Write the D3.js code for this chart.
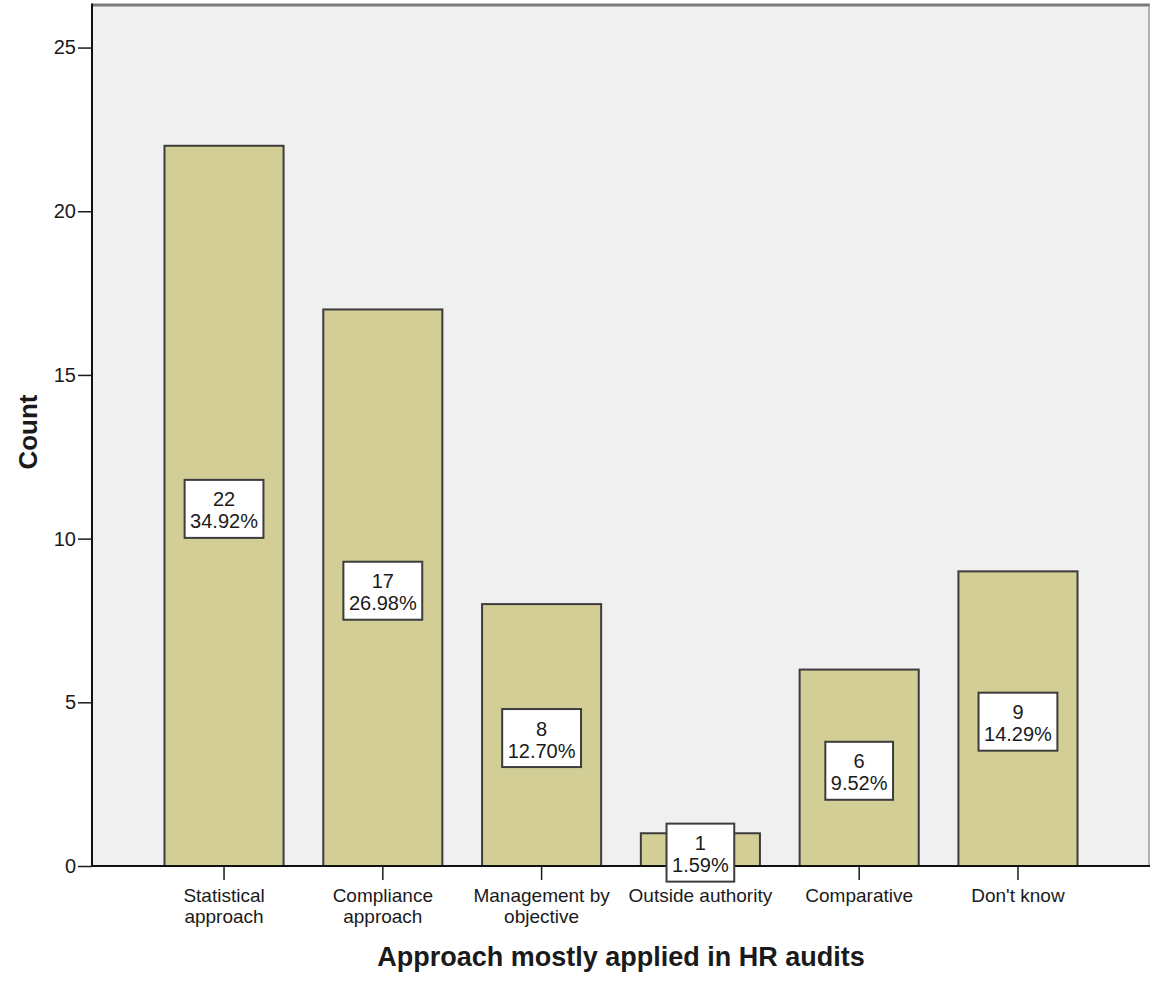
<!DOCTYPE html>
<html>
<head>
<meta charset="utf-8">
<script src="https://cdn.jsdelivr.net/npm/d3@7"></script>
<style>
  html, body { margin: 0; padding: 0; background: #ffffff; }
  svg text { font-family: "Liberation Sans", Arial, sans-serif; fill: #1a1a1a; }
</style>
</head>
<body>
<svg id="chart" width="1150" height="982"></svg>
<script>
// Survey responses: approach mostly applied in HR audits
const categories = [
  ["Statistical", "approach"],
  ["Compliance", "approach"],
  ["Management by", "objective"],
  ["Outside authority"],
  ["Comparative"],
  ["Don't know"]
];
const counts = [22, 17, 8, 1, 6, 9];
const percents = ["34.92%", "26.98%", "12.70%", "1.59%", "9.52%", "14.29%"];
const yTicks = [0, 5, 10, 15, 20, 25];

const svg = d3.select("#chart");
const plot = { left: 92, right: 1150, top: 5, bottom: 866 };

const keys = categories.map((c, i) => i);
const x = d3.scaleBand()
  .domain(keys)
  .range([plot.left, plot.right])
  .paddingInner(0.25)
  .paddingOuter(0.4565);

const y = d3.scaleLinear()
  .domain([0, 26.3])
  .range([plot.bottom, plot.top]);

// plot background
svg.append("rect")
  .attr("x", plot.left).attr("y", plot.top)
  .attr("width", plot.right - plot.left)
  .attr("height", plot.bottom - plot.top)
  .attr("fill", "#f0f0f0");

// top and right frame
svg.append("line")
  .attr("x1", plot.left).attr("x2", plot.right)
  .attr("y1", plot.top).attr("y2", plot.top)
  .attr("stroke", "#7a7a7a").attr("stroke-width", 3);
svg.append("line")
  .attr("x1", plot.right - 1).attr("x2", plot.right - 1)
  .attr("y1", plot.top).attr("y2", plot.bottom)
  .attr("stroke", "#9a9a9a").attr("stroke-width", 1.5);

// bars
svg.append("g").selectAll("rect")
  .data(counts)
  .join("rect")
  .attr("x", (d, i) => x(i))
  .attr("y", d => y(d))
  .attr("width", x.bandwidth())
  .attr("height", d => y(0) - y(d))
  .attr("fill", "#d2ce96")
  .attr("stroke", "#3c3c3c")
  .attr("stroke-width", 2);

// y axis
const yAxis = svg.append("g")
  .attr("transform", `translate(${plot.left},0)`)
  .call(d3.axisLeft(y).tickValues(yTicks).tickSize(14).tickPadding(2).tickSizeOuter(0));
yAxis.select(".domain").remove();
yAxis.selectAll(".tick line").attr("stroke", "#1a1a1a").attr("stroke-width", 1.5);
yAxis.selectAll(".tick text")
  .attr("font-size", 20)
  .attr("font-family", "Liberation Sans, Arial, sans-serif")
  .attr("fill", "#1a1a1a");
svg.append("line")
  .attr("x1", plot.left).attr("x2", plot.left)
  .attr("y1", plot.top - 1.5).attr("y2", plot.bottom)
  .attr("stroke", "#111").attr("stroke-width", 2);

// x axis
const xAxis = svg.append("g")
  .attr("transform", `translate(0,${plot.bottom})`)
  .call(d3.axisBottom(x).tickSize(14).tickSizeOuter(0).tickFormat(""));
xAxis.select(".domain").remove();
xAxis.selectAll(".tick line").attr("stroke", "#1a1a1a").attr("stroke-width", 1.5);
svg.append("line")
  .attr("x1", plot.left).attr("x2", plot.right)
  .attr("y1", plot.bottom).attr("y2", plot.bottom)
  .attr("stroke", "#111").attr("stroke-width", 2);

// category labels (wrapped)
const catLabels = svg.append("g").selectAll("text")
  .data(categories)
  .join("text")
  .attr("x", (d, i) => x(i) + x.bandwidth() / 2)
  .attr("y", 902)
  .attr("text-anchor", "middle")
  .attr("font-size", 19);
catLabels.selectAll("tspan")
  .data(d => d)
  .join("tspan")
  .attr("x", function () { return d3.select(this.parentNode).attr("x"); })
  .attr("dy", (d, i) => i === 0 ? 0 : 20.5)
  .text(d => d);

// value labels in boxes at bar mid-height
const boxes = svg.append("g").selectAll("g")
  .data(counts)
  .join("g")
  .attr("transform", (d, i) => `translate(${x(i) + x.bandwidth() / 2},${y(d / 2) + 3})`);

boxes.each(function (d, i) {
  const g = d3.select(this);
  const rect = g.append("rect");
  const t1 = g.append("text").attr("text-anchor", "middle").attr("font-size", 20).attr("y", -2.5).text(d);
  const t2 = g.append("text").attr("text-anchor", "middle").attr("font-size", 20).attr("y", 19.5).text(percents[i]);
  const w = Math.max(t1.node().getComputedTextLength(), t2.node().getComputedTextLength()) + 11;
  rect.attr("x", -w / 2).attr("y", -29).attr("width", w).attr("height", 58)
    .attr("fill", "#ffffff").attr("stroke", "#3c3c3c").attr("stroke-width", 2);
});

// axis titles
svg.append("text")
  .attr("x", (plot.left + plot.right) / 2)
  .attr("y", 966)
  .attr("text-anchor", "middle")
  .attr("font-size", 27)
  .attr("font-weight", "bold")
  .text("Approach mostly applied in HR audits");

svg.append("text")
  .attr("transform", `translate(37,${432}) rotate(-90)`)
  .attr("text-anchor", "middle")
  .attr("font-size", 26)
  .attr("font-weight", "bold")
  .text("Count");
</script>
</body>
</html>
